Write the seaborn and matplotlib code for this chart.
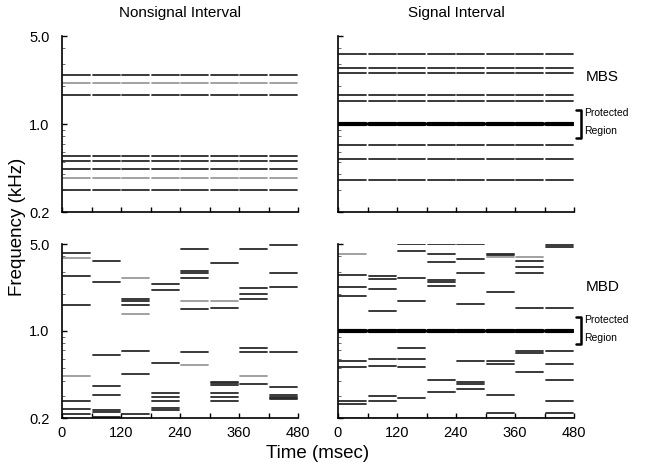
import numpy as np
import pandas as pd
import seaborn as sns
import matplotlib.pyplot as plt
from matplotlib.ticker import NullFormatter, FixedLocator, LogLocator

sns.set_theme(style="ticks")
plt.rcParams['font.family'] = ['Liberation Sans', 'DejaVu Sans']
plt.rcParams['text.color'] = 'black'
plt.rcParams['xtick.labelcolor'] = 'black'
plt.rcParams['ytick.labelcolor'] = 'black'

# segment start times (msec), each burst lasts 60 msec
seg_starts = [0, 60, 120, 180, 240, 300, 360, 420]
seg_len = 60

# MBS: same tone frequencies (kHz) in every segment
mbs_nonsignal = [2.45, 2.11, 1.70, 0.556, 0.508, 0.436, 0.375, 0.298]
mbs_signal = [3.63, 2.76, 2.52, 1.70, 1.53, 0.675, 0.530, 0.357]
signal_freq = 1.0

# MBD: new random frequencies (kHz) in every segment
mbd_nonsignal = [
    [4.21, 3.84, 2.77, 1.61, 0.438, 0.272, 0.236, 0.215],
    [3.67, 2.48, 0.645, 0.364, 0.308, 0.231, 0.222, 0.204],
    [2.67, 1.82, 1.73, 1.61, 1.37, 0.695, 0.451, 0.215],
    [2.40, 2.12, 0.557, 0.316, 0.293, 0.272, 0.242, 0.232],
    [4.53, 3.03, 2.94, 2.67, 1.73, 1.49, 0.674, 0.530],
    [3.54, 1.73, 1.54, 0.392, 0.380, 0.371, 0.316, 0.293, 0.272],
    [4.53, 2.20, 1.99, 1.82, 0.726, 0.674, 0.438, 0.375],
    [4.88, 2.92, 2.27, 0.674, 0.355, 0.304, 0.297, 0.290, 0.283],
]
mbd_signal = [
    [4.13, 2.84, 2.27, 1.90, 0.574, 0.511, 0.274, 0.261],
    [2.77, 2.60, 2.19, 1.44, 0.600, 0.526, 0.302, 0.272],
    [4.98, 4.39, 2.65, 1.73, 0.726, 0.600, 0.511, 0.291],
    [4.98, 4.15, 3.56, 2.57, 2.46, 2.28, 0.404, 0.323],
    [4.98, 3.79, 2.94, 1.66, 0.574, 0.389, 0.375, 0.340],
    [4.15, 4.05, 3.96, 2.06, 0.574, 0.540, 0.304, 0.221],
    [3.96, 3.67, 3.25, 2.94, 1.54, 0.695, 0.670, 0.471],
    [4.95, 4.73, 1.54, 0.695, 0.540, 0.404, 0.272, 0.221],
]
noise_floor = 0.203

# lighter (grey) lines: (segment, index)
mbs_non_light = [1, 6]
mbs_sig_light = []
mbd_non_light = [(0, 1), (0, 4), (2, 0), (2, 4), (4, 4), (4, 7), (5, 1), (6, 6)]
mbd_sig_light = [(0, 0), (5, 2), (6, 0)]

DARK = '#2a2a2a'
LIGHT = '#9a9a9a'
GAP = 2.5


def build_frame(freqs_per_seg, light):
    rows = []
    uid = 0
    for s, (t0, freqs) in enumerate(zip(seg_starts, freqs_per_seg)):
        for i, f in enumerate(freqs):
            tone = LIGHT if (s, i) in light else DARK
            rows.append((t0 + GAP, f, uid, tone))
            rows.append((t0 + seg_len - GAP, f, uid, tone))
            uid += 1
    return pd.DataFrame(rows, columns=['t', 'f', 'line', 'tone'])


def steady(freqs, light_idx):
    return [list(freqs) for _ in seg_starts], [(s, i) for s in range(len(seg_starts)) for i in light_idx]


def draw(ax, df, with_signal, extra=None):
    sns.lineplot(data=df, x='t', y='f', units='line', estimator=None,
                 hue='tone', palette={DARK: DARK, LIGHT: LIGHT},
                 legend=False, lw=1.3, ax=ax)
    if with_signal:
        sig = build_frame([[signal_freq] for _ in seg_starts], [])
        sns.lineplot(data=sig, x='t', y='f', units='line', estimator=None,
                     color='black', lw=3, legend=False, ax=ax)
    if extra is not None:
        sns.lineplot(data=extra, x='t', y='f', units='line', estimator=None,
                     color='#777777', lw=0.7, ls=(0, (1, 1)), legend=False, ax=ax)
    ax.set_yscale('log')
    ax.set_xlim(0, 480)
    ax.set_ylim(0.2, 5.0)
    ax.set_xlabel('')
    ax.set_ylabel('')
    ax.xaxis.set_major_locator(FixedLocator([0, 120, 240, 360, 480]))
    ax.xaxis.set_minor_locator(FixedLocator([60, 180, 300, 420]))
    ax.yaxis.set_major_locator(FixedLocator([0.2, 1.0, 5.0]))
    ax.yaxis.set_minor_locator(LogLocator(subs=np.arange(2, 10)))
    ax.yaxis.set_minor_formatter(NullFormatter())
    ax.tick_params(which='major', direction='in', length=3.5, width=1,
                   labelsize=10.5, color='black', labelcolor='black')
    ax.tick_params(axis='x', which='major', pad=6)
    ax.tick_params(axis='y', which='major', pad=9)
    ax.tick_params(which='minor', direction='in', length=2, width=0.6,
                   color='#555555')
    ax.tick_params(axis='x', which='minor', length=3.5, width=1, color='black')
    for sp in ('left', 'bottom'):
        ax.spines[sp].set_color('black')
        ax.spines[sp].set_linewidth(1.2)
    sns.despine(ax=ax)


def bracket(ax, label, label_y):
    tr = ax.get_yaxis_transform()
    ax.plot([1.01, 1.028, 1.028, 1.01], [1.29, 1.29, 0.78, 0.78],
            transform=tr, color='black', lw=1.8, clip_on=False)
    ax.text(1.042, 1.22, 'Protected', transform=tr, fontsize=7.5,
            va='center', ha='left')
    ax.text(1.042, 0.875, 'Region', transform=tr, fontsize=7.5,
            va='center', ha='left')
    ax.text(1.05, label_y, label, transform=ax.transAxes, fontsize=11,
            va='center', ha='left')


fig = plt.figure(figsize=(6.45, 4.66), dpi=100)
w = 236 / 645
ax_tl = fig.add_axes([62 / 645, 1 - 212 / 466, w, 176 / 466])
ax_tr = fig.add_axes([338 / 645, 1 - 212 / 466, w, 176 / 466])
ax_bl = fig.add_axes([62 / 645, 1 - 418 / 466, w, 174 / 466])
ax_br = fig.add_axes([338 / 645, 1 - 418 / 466, w, 174 / 466])

f, l = steady(mbs_nonsignal, mbs_non_light)
draw(ax_tl, build_frame(f, l), False)
f, l = steady(mbs_signal, mbs_sig_light)
draw(ax_tr, build_frame(f, l), True)
draw(ax_bl, build_frame(mbd_nonsignal, mbd_non_light), False)
floor = build_frame([[noise_floor] for _ in seg_starts], [])
draw(ax_br, build_frame(mbd_signal, mbd_sig_light), True, extra=floor)

for ax in (ax_tl, ax_tr):
    ax.set_xticklabels([])
for ax in (ax_tl, ax_bl):
    ax.set_yticklabels(['0.2', '1.0', '5.0'])
for ax in (ax_tr, ax_br):
    ax.set_yticklabels([])

ax_tl.set_title('Nonsignal Interval', fontsize=11, pad=14, color='black')
ax_tr.set_title('Signal Interval', fontsize=11, pad=14, color='black')

bracket(ax_tr, 'MBS', 0.767)
bracket(ax_br, 'MBD', 0.753)

fig.text(18 / 645, 1 - 227 / 466, 'Frequency (kHz)', rotation=90,
         fontsize=13.5, ha='center', va='center')
fig.text(318 / 645, 1 - 453 / 466, 'Time (msec)', fontsize=13.5,
         ha='center', va='center')

fig.savefig('out.png', dpi=100)
